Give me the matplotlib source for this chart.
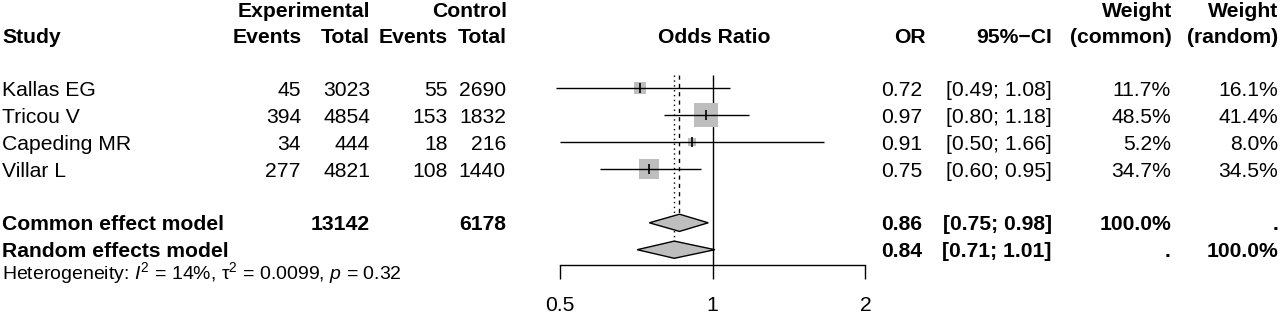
import numpy as np
import matplotlib
matplotlib.use("Agg")
import matplotlib.pyplot as plt
from matplotlib import transforms
from matplotlib.patches import Polygon

plt.rcParams["font.family"] = ["Liberation Sans", "DejaVu Sans"]
plt.rcParams["mathtext.fontset"] = "custom"
plt.rcParams["mathtext.rm"] = "Liberation Sans"
plt.rcParams["mathtext.it"] = "Liberation Sans:italic"

# -------------------------------------------------
# Data
# -------------------------------------------------
studies = ["Kallas EG", "Tricou V", "Capeding MR", "Villar L"]
ev_exp = [45, 394, 34, 277]
n_exp = [3023, 4854, 444, 4821]
ev_ctrl = [55, 153, 18, 108]
n_ctrl = [2690, 1832, 216, 1440]
odds = [0.72, 0.97, 0.91, 0.75]
ci_lo = [0.49, 0.80, 0.50, 0.60]
ci_hi = [1.08, 1.18, 1.66, 0.95]
w_common = [11.7, 48.5, 5.2, 34.7]
w_random = [16.1, 41.4, 8.0, 34.5]

pooled_names = ["Common effect model", "Random effects model"]
pooled_or = [0.86, 0.84]
pooled_lo = [0.75, 0.71]
pooled_hi = [0.98, 1.01]

het_text = r"Heterogeneity: $I^2$ = 14%, τ${}^2$ = 0.0099, $p$ = 0.32"
xticks = [0.5, 1, 2]
xtick_labels = ["0.5", "1", "2"]

# -------------------------------------------------
# Layout
# -------------------------------------------------
W, H = 1280, 314
FS = 15.2
GRAY = "#bebebe"

fig = plt.figure(figsize=(W / 100, H / 100), dpi=100)

# forest axes: x in log scale, y in row units (row 0 = first study)
x_left, x_right = 540, 880
ax = fig.add_axes([x_left / W, 0, (x_right - x_left) / W, 1])
ax.set_xscale("log")
px_one, px_per_log2 = 712.7, 152.7
ax.set_xlim(2 ** ((x_left - px_one) / px_per_log2),
            2 ** ((x_right - px_one) / px_per_log2))
row0_px, row_px = 88.3, 26.9
ax.set_ylim((H - row0_px) / row_px, -row0_px / row_px)
ax.patch.set_visible(False)

axis_y = (265 - row0_px) / row_px
for s in ["top", "left", "right"]:
    ax.spines[s].set_visible(False)
ax.spines["bottom"].set_position(("data", axis_y))
ax.spines["bottom"].set_bounds(0.5, 2)
ax.spines["bottom"].set_linewidth(1.0)
ax.set_yticks([])
ax.xaxis.set_minor_locator(matplotlib.ticker.NullLocator())
ax.set_xticks(xticks)
ax.set_xticklabels(xtick_labels, fontsize=FS)
ax.tick_params(axis="x", length=10, width=1.0, pad=12.5)

top_y = -0.5
rows = np.arange(len(studies))
c_row, r_row = len(studies) + 1, len(studies) + 2
dh = 0.32

# reference lines
ax.vlines(1, top_y, axis_y, color="black", lw=1.0)
ax.vlines(pooled_or[0], top_y, c_row - dh, color="black", lw=1.0,
          linestyles=(0, (3, 3)))
ax.vlines(pooled_or[1], top_y, r_row - dh, color="black", lw=1.0,
          linestyles=(0, (1, 2.5)))

# study squares, CIs and point ticks
for i in rows:
    side = 3.5 * np.sqrt(w_common[i]) * 0.72
    ax.plot(odds[i], i, marker="s", ms=side, color=GRAY, mew=0, zorder=2)
    ax.hlines(i, ci_lo[i], ci_hi[i], color="black", lw=1.0, zorder=3)
    ax.plot(odds[i], i, marker="|", ms=7, color="black", mew=1.2, zorder=4)

# pooled diamonds
for k, row in enumerate([c_row, r_row]):
    pts = [(pooled_lo[k], row), (pooled_or[k], row - dh),
           (pooled_hi[k], row), (pooled_or[k], row + dh)]
    ax.add_patch(Polygon(pts, closed=True, facecolor=GRAY,
                         edgecolor="black", lw=1.0, zorder=3))

# -------------------------------------------------
# Text columns
# -------------------------------------------------
tr = transforms.blended_transform_factory(fig.transFigure, ax.transData)
base = 0.28


def put(x, y, s, ha="right", bold=False, size=FS):
    fig.text(x / W, y + base, s, transform=tr, ha=ha, va="baseline",
             fontsize=size, fontweight="bold" if bold else "normal")


h1, h2 = -2.66 - base, -1.684 - base
put(370, h1, "Experimental", bold=True)
put(507, h1, "Control", bold=True)
put(1172, h1, "Weight", bold=True)
put(1278, h1, "Weight", bold=True)

put(2, h2, "Study", ha="left", bold=True)
put(302, h2, "Events", bold=True)
put(370, h2, "Total", bold=True)
put(448, h2, "Events", bold=True)
put(507, h2, "Total", bold=True)
put(714, h2, "Odds Ratio", ha="center", bold=True)
put(926, h2, "OR", bold=True)
put(1052, h2, "95%\u2212CI", bold=True)
put(1172, h2, "(common)", bold=True)
put(1278, h2, "(random)", bold=True)

for i in rows:
    put(2, i, studies[i], ha="left")
    put(301, i, f"{ev_exp[i]}")
    put(370, i, f"{n_exp[i]}")
    put(448, i, f"{ev_ctrl[i]}")
    put(506, i, f"{n_ctrl[i]}")
    put(922, i, f"{odds[i]:.2f}")
    put(1052, i, f"[{ci_lo[i]:.2f}; {ci_hi[i]:.2f}]")
    put(1171, i, f"{w_common[i]:.1f}%")
    put(1278, i, f"{w_random[i]:.1f}%")

put(2, c_row, pooled_names[0], ha="left", bold=True)
put(370, c_row, f"{sum(n_exp)}", bold=True)
put(506, c_row, f"{sum(n_ctrl)}", bold=True)
put(2, r_row, pooled_names[1], ha="left", bold=True)
for k, row in enumerate([c_row, r_row]):
    put(922, row, f"{pooled_or[k]:.2f}", bold=True)
    put(1052, row, f"[{pooled_lo[k]:.2f}; {pooled_hi[k]:.2f}]", bold=True)
put(1171, c_row, "100.0%", bold=True)
put(1278, c_row, ".", bold=True)
put(1171, r_row, ".", bold=True)
put(1278, r_row, "100.0%", bold=True)

fig.text(2 / W, (279 - row0_px) / row_px, het_text, transform=tr,
         ha="left", va="baseline", fontsize=14)

fig.savefig("out.png", dpi=100)
